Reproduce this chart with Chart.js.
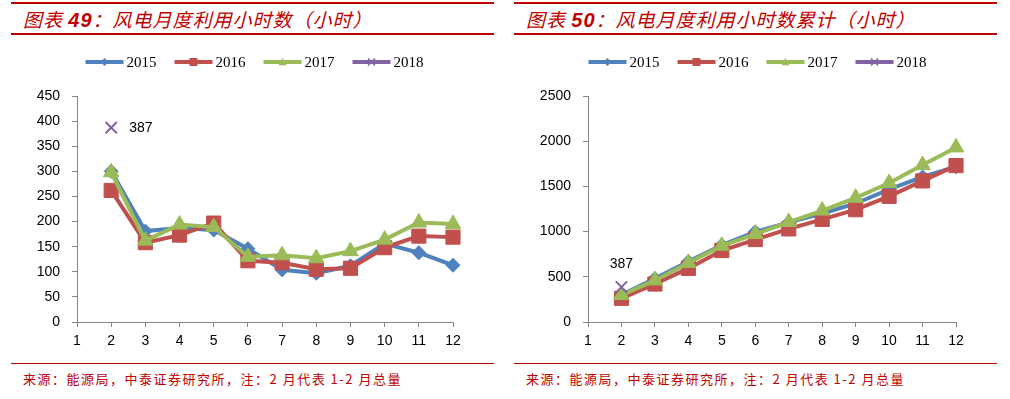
<!DOCTYPE html>
<html>
<head>
<meta charset="utf-8">
<script src="https://cdn.jsdelivr.net/npm/chart.js@4.4.1/dist/chart.umd.min.js"></script>
<style>
  html, body { margin: 0; padding: 0; background: #fff; }
  body { width: 1010px; height: 399px; position: relative; overflow: hidden; }
  .panel { position: absolute; top: 0; width: 483px; height: 399px; }
  .topline { position: absolute; left: 0; top: 2px; width: 483px; height: 2px; background: #C00000; }
  .title {
    position: absolute; left: 12px; top: 5px; height: 28px; line-height: 28px;
    font-family: "Noto Sans CJK SC", sans-serif; font-size: 19px; font-style: italic;
    color: #C00000; letter-spacing: 1px; white-space: nowrap;
  }
  .title b { font-family: "Liberation Sans", Arial, sans-serif; font-size: 20px; }
  .subline { position: absolute; left: 0; top: 33px; width: 483px; height: 2px; background: #C00000; }
  .chartbox { position: absolute; left: 0; top: 40px; width: 483px; height: 318px; }
  .footline { position: absolute; left: 0; top: 363px; width: 483px; height: 1px; background: #C00000; }
  .foot {
    position: absolute; left: 12px; top: 369px; height: 20px; line-height: 20px;
    font-family: "Noto Sans CJK SC", sans-serif; font-size: 13px; color: #C00000;
    letter-spacing: 1.5px; white-space: nowrap;
  }
</style>
</head>
<body>

<div class="panel" style="left:11px">
  <div class="topline"></div>
  <div class="title">图表 <b>49</b>：风电月度利用小时数（小时）</div>
  <div class="subline"></div>
  <div class="chartbox"><canvas id="monthChart"></canvas></div>
  <div class="footline"></div>
  <div class="foot">来源：能源局，中泰证券研究所，注：2 月代表 1-2 月总量</div>
</div>

<div class="panel" style="left:514px">
  <div class="topline"></div>
  <div class="title">图表 <b>50</b>：风电月度利用小时数累计（小时）</div>
  <div class="subline"></div>
  <div class="chartbox"><canvas id="cumChart"></canvas></div>
  <div class="footline"></div>
  <div class="foot">来源：能源局，中泰证券研究所，注：2 月代表 1-2 月总量</div>
</div>

<script>
// x axis: months (1 is shown as a tick only)
const months = [2, 3, 4, 5, 6, 7, 8, 9, 10, 11, 12];
const years = ['2015', '2016', '2017', '2018'];

// monthly utilisation hours
const monthly2015 = [300, 181, 187, 183, 146, 104, 97, 112, 156, 138, 113];
const monthly2016 = [262, 158, 173, 197, 122, 118, 105, 107, 148, 171, 169];
const monthly2017 = [298, 162, 194, 189, 130, 133, 127, 141, 164, 198, 195];
const monthly2018 = [387];

// cumulative utilisation hours
const cum2015 = [300, 481, 669, 852, 998, 1102, 1199, 1311, 1467, 1605, 1718];
const cum2016 = [262, 420, 593, 790, 912, 1030, 1135, 1242, 1390, 1561, 1730];
const cum2017 = [298, 460, 654, 843, 973, 1106, 1233, 1374, 1538, 1736, 1931];
const cum2018 = [387];

const colors = ['#4F81BD', '#C0504D', '#9BBB59', '#8064A2'];
const pointStyles = ['rectRot', 'rect', 'triangle', 'crossRot'];
const pointRadii = [7, 10, 9, 8];

function toPoints(values) {
  return values.map((v, i) => ({ x: months[i], y: v }));
}

function drawMarker(ctx, style, x, y, r, color) {
  ctx.save();
  ctx.fillStyle = color;
  ctx.strokeStyle = color;
  ctx.beginPath();
  if (style === 'rectRot') {
    ctx.moveTo(x, y - r); ctx.lineTo(x + r, y); ctx.lineTo(x, y + r); ctx.lineTo(x - r, y);
    ctx.closePath(); ctx.fill();
  } else if (style === 'rect') {
    ctx.rect(x - r, y - r, r * 2, r * 2); ctx.fill();
  } else if (style === 'triangle') {
    ctx.moveTo(x, y - r); ctx.lineTo(x + r, y + r * 0.8); ctx.lineTo(x - r, y + r * 0.8);
    ctx.closePath(); ctx.fill();
  } else {
    ctx.lineWidth = 1.5;
    ctx.moveTo(x - r, y - r); ctx.lineTo(x + r, y + r);
    ctx.moveTo(x + r, y - r); ctx.lineTo(x - r, y + r);
    ctx.stroke();
  }
  ctx.restore();
}

// legend: short thick line with the marker in the middle, serif year text
const lineLegend = {
  id: 'lineLegend',
  afterDraw(chart) {
    const ctx = chart.ctx;
    const y = 22, lineW = 38, gapText = 3, gapItem = 18;
    ctx.save();
    ctx.font = '15px "Liberation Serif", "Times New Roman", serif';
    const widths = years.map(t => lineW + gapText + ctx.measureText(t).width);
    const total = widths.reduce((a, b) => a + b, 0) + gapItem * (years.length - 1);
    let x = chart.width / 2 - total / 2 + 2;
    years.forEach((t, i) => {
      ctx.strokeStyle = colors[i];
      ctx.lineWidth = 4;
      ctx.beginPath();
      ctx.moveTo(x, y); ctx.lineTo(x + lineW, y);
      ctx.stroke();
      const mr = [4, 4, 4, 3.5][i];
      drawMarker(ctx, pointStyles[i], x + lineW / 2, y, mr, colors[i]);
      ctx.fillStyle = '#000';
      ctx.textBaseline = 'middle';
      ctx.textAlign = 'left';
      ctx.fillText(t, x + lineW + gapText, y + 1);
      x += widths[i] + gapItem;
    });
    ctx.restore();
  }
};

// "387" label next to the 2018 point
const pointLabel = {
  id: 'pointLabel',
  afterDatasetsDraw(chart, args, opts) {
    const meta = chart.getDatasetMeta(3);
    const el = meta.data[0];
    if (!el) return;
    const ctx = chart.ctx;
    ctx.save();
    ctx.font = '14px "Liberation Sans", Arial, sans-serif';
    ctx.fillStyle = '#000';
    ctx.textBaseline = 'middle';
    ctx.textAlign = opts.align;
    ctx.fillText(String(chart.data.datasets[3].data[0].y), el.x + opts.dx, el.y + opts.dy);
    ctx.restore();
  }
};

function makeChart(id, series, yMax, yStep, yWidth, labelOpts) {
  const datasets = series.map((vals, i) => ({
    label: years[i],
    data: toPoints(vals),
    borderColor: colors[i],
    backgroundColor: colors[i],
    borderWidth: 4,
    pointStyle: pointStyles[i],
    pointRadius: pointRadii[i],
    pointHoverRadius: pointRadii[i],
    pointBackgroundColor: colors[i],
    pointBorderColor: colors[i],
    pointBorderWidth: i === 3 ? 2 : 1,
    tension: 0,
    order: 3 - i,
    clip: false
  }));

  return new Chart(document.getElementById(id), {
    type: 'line',
    data: { datasets: datasets },
    options: {
      responsive: true,
      maintainAspectRatio: false,
      animation: false,
      layout: { padding: { top: 56, right: 41, left: 0, bottom: 0 } },
      plugins: {
        legend: { display: false },
        tooltip: { enabled: false },
        pointLabel: labelOpts
      },
      scales: {
        x: {
          type: 'linear',
          min: 1,
          max: 12,
          afterFit: s => { s.height = 36; },
          ticks: {
            stepSize: 1,
            padding: 6,
            color: '#000',
            font: { family: '"Liberation Sans", Arial, sans-serif', size: 14 }
          },
          grid: { drawOnChartArea: false, drawTicks: true, tickLength: 5, color: '#868686' },
          border: { color: '#868686', width: 1 }
        },
        y: {
          min: 0,
          max: yMax,
          afterFit: s => { s.width = yWidth; },
          ticks: {
            stepSize: yStep,
            padding: 12,
            color: '#000',
            font: { family: '"Liberation Sans", Arial, sans-serif', size: 14 },
            callback: v => String(v)
          },
          grid: { drawOnChartArea: false, drawTicks: true, tickLength: 5, color: '#868686' },
          border: { color: '#868686', width: 1 }
        }
      }
    },
    plugins: [lineLegend, pointLabel]
  });
}

makeChart('monthChart', [monthly2015, monthly2016, monthly2017, monthly2018], 450, 50, 66,
  { align: 'left', dx: 18, dy: 1 });
makeChart('cumChart', [cum2015, cum2016, cum2017, cum2018], 2500, 500, 74,
  { align: 'center', dx: 0, dy: -23 });
</script>
</body>
</html>
